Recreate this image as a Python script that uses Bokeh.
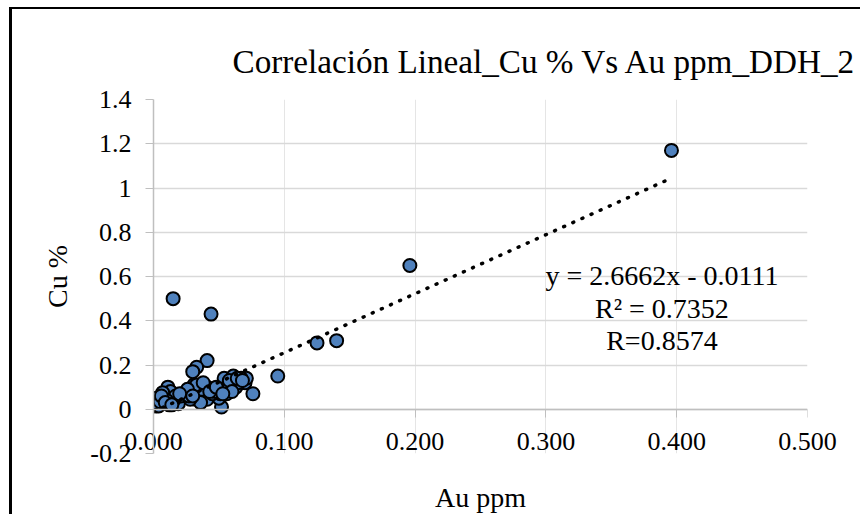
from bokeh.plotting import figure
from bokeh.models import Range1d, FixedTicker, NumeralTickFormatter, LinearAxis, Label
from bokeh.embed import file_html
from bokeh.resources import INLINE

# ---- data ----
au_ppm = [0.396, 0.196, 0.140, 0.125, 0.095, 0.015, 0.044, 0.041, 0.033, 0.030,
          0.076, 0.052, 0.050, 0.054, 0.061, 0.070, 0.061, 0.071, 0.067, 0.056,
          0.011, 0.002, 0.002, 0.019, 0.031, 0.037, 0.037, 0.032, 0.023, 0.008,
          0.004, 0.021, 0.025, 0.035, 0.041, 0.036, 0.028, 0.016, 0.013, 0.063,
          0.051, 0.056, 0.041, 0.045, 0.037, 0.017, 0.000, 0.007, 0.010, 0.027,
          0.047, 0.065, 0.058, 0.012, 0.005, 0.033, 0.038, 0.043, 0.048, 0.058,
          0.064, 0.068, 0.060, 0.053, 0.026, 0.030, 0.020, 0.006, 0.009, 0.014]
cu_pct = [1.17, 0.65, 0.31, 0.30, 0.15, 0.50, 0.43, 0.22, 0.19, 0.17,
          0.07, 0.01, 0.05, 0.14, 0.15, 0.12, 0.10, 0.14, 0.14, 0.07,
          0.10, 0.05, 0.015, 0.025, 0.11, 0.10, 0.05, 0.045, 0.07, 0.07,
          0.015, 0.06, 0.08, 0.07, 0.045, 0.03, 0.045, 0.045, 0.08, 0.10,
          0.07, 0.10, 0.10, 0.07, 0.09, 0.06, 0.03, 0.075, 0.04, 0.06,
          0.08, 0.12, 0.11, 0.02, 0.035, 0.11, 0.12, 0.08, 0.10, 0.13,
          0.14, 0.13, 0.08, 0.07, 0.09, 0.06, 0.07, 0.06, 0.03, 0.02]
slope = 2.6662
intercept = -0.0111
r_squared = 0.7352
r_value = 0.8574
x_ticks = [0.0, 0.1, 0.2, 0.3, 0.4, 0.5]
y_ticks = [-0.2, 0.0, 0.2, 0.4, 0.6, 0.8, 1.0, 1.2, 1.4]
title_text = "Correlación Lineal_Cu % Vs Au ppm_DDH_2"
x_label = "Au ppm"
y_label = "Cu %"

FONT = "Liberation Serif"
GRID = "#d9d9d9"
AXIS = "#bfbfbf"

p = figure(width=851, height=507, output_backend="svg", toolbar_location=None,
           x_range=Range1d(x_ticks[0], x_ticks[-1]), y_range=Range1d(y_ticks[0], y_ticks[-1]),
           x_axis_location=None, y_axis_location="left",
           min_border_left=141, min_border_right=56, min_border_top=90, min_border_bottom=63)
p.styles = {"border-left": "3px solid black", "border-top": "2px solid black",
            "margin-left": "9px", "margin-top": "7px"}
p.outline_line_color = None
p.background_fill_color = "white"
p.border_fill_color = "white"

# title
p.title.text = title_text
p.title.text_font = FONT
p.title.text_font_size = "33.2px"
p.title.text_font_style = "normal"
p.title.text_color = "black"
p.title.align = "left"
p.title.offset = 79
p.title.standoff = 40

# y axis / grid
ya = p.yaxis[0]
ya.ticker = FixedTicker(ticks=y_ticks)
ya.formatter = NumeralTickFormatter(format="0.[0]")
ya.axis_label = y_label
ya.axis_label_text_font = FONT
ya.axis_label_text_font_size = "28px"
ya.axis_label_text_font_style = "normal"
ya.axis_label_text_color = "black"
ya.axis_label_standoff = 14
ya.major_label_text_font = FONT
ya.major_label_text_font_size = "26px"
ya.major_label_text_color = "black"
ya.major_label_standoff = 14
ya.major_tick_out = 8
ya.major_tick_in = 0
ya.minor_tick_out = 0
ya.minor_tick_in = 0
ya.axis_line_color = AXIS
ya.axis_line_width = 1.5
ya.major_tick_line_color = AXIS
p.ygrid.ticker = FixedTicker(ticks=y_ticks)
p.ygrid.grid_line_color = GRID
p.ygrid.grid_line_width = 1.5

# x axis line + ticks crossing at y = 0 (labels drawn by the lower axis)
xa0 = LinearAxis(fixed_location=0, ticker=FixedTicker(ticks=x_ticks),
                 formatter=NumeralTickFormatter(format="0.000"))
xa0.major_label_text_color = None
xa0.major_tick_out = 8
xa0.major_tick_in = 0
xa0.minor_tick_out = 0
xa0.minor_tick_in = 0
xa0.axis_line_color = AXIS
xa0.axis_line_width = 1.5
xa0.major_tick_line_color = AXIS
p.add_layout(xa0, "below")

# x tick labels and axis title, placed at the bottom of the frame
xa = LinearAxis(ticker=FixedTicker(ticks=x_ticks),
                formatter=NumeralTickFormatter(format="0.000"))
xa.axis_line_color = None
xa.major_tick_line_color = None
xa.minor_tick_line_color = None
xa.major_tick_out = 0
xa.major_tick_in = 0
xa.minor_tick_out = 0
xa.minor_tick_in = 0
xa.major_label_text_font = FONT
xa.major_label_text_font_size = "26px"
xa.major_label_text_color = "black"
xa.major_label_standoff = -21
xa.axis_label = x_label
xa.axis_label_text_font = FONT
xa.axis_label_text_font_size = "28px"
xa.axis_label_text_font_style = "normal"
xa.axis_label_text_color = "black"
xa.axis_label_standoff = 29
p.add_layout(xa, "below")

# scatter
p.scatter(au_ppm, cu_pct, size=13, fill_color="#4f81bd", line_color="black", line_width=2)

# linear trendline
tx = [min(au_ppm), max(au_ppm)]
ty = [slope * v + intercept for v in tx]
p.line(tx, ty, line_color="black", line_width=3.5, line_dash="1 9", line_cap="round")

# equation labels
sign = "-" if intercept < 0 else "+"
eq_lines = [f"y = {slope:.4f}x {sign} {abs(intercept):.4f}",
            f"R\u00b2 = {r_squared:.4f}",
            f"R={r_value:.4f}"]
eq_y = [0.604, 0.457, 0.312]
for t, yy in zip(eq_lines, eq_y):
    p.add_layout(Label(x=0.3887, y=yy, text=t, text_align="center", text_baseline="middle",
                       text_font=FONT, text_font_size="28px", text_color="black"))

open("out.html", "w").write(file_html(p, INLINE))
